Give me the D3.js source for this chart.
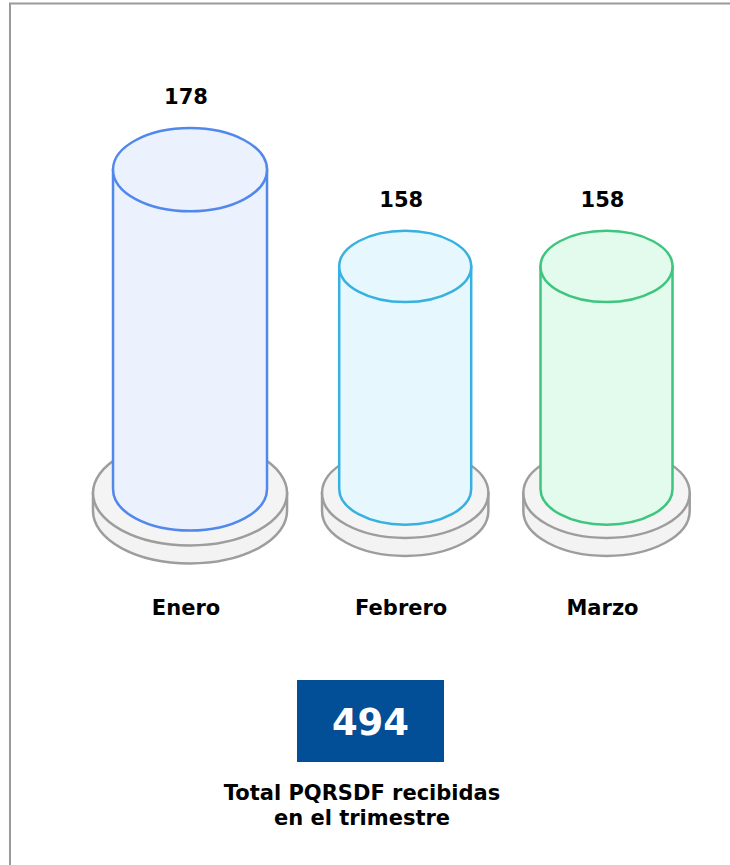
<!DOCTYPE html>
<html>
<head>
<meta charset="utf-8">
<script src="https://cdn.jsdelivr.net/npm/d3@7"></script>
<style>
  body { margin: 0; background: #fff; }
  svg { display: block; }
</style>
</head>
<body>
<svg id="chart" width="730" height="865"></svg>
<script>
// datos
const months = ["Enero", "Febrero", "Marzo"];
const counts = [178, 158, 158];
const totalLines = ["Total PQRSDF recibidas", "en el trimestre"];

// paleta
const strokeColors = ["#5088ec", "#37b1e0", "#3ec57f"];
const fillColors = ["#ebf2fe", "#e6f7fe", "#e2fbec"];

const font = "'DejaVu Sans', Verdana, sans-serif";
const svg = d3.select("#chart");

// marco
svg.append("rect")
    .attr("x", 10).attr("y", 3.5)
    .attr("width", 800).attr("height", 900)
    .attr("fill", "none")
    .attr("stroke", "#9a9a9a")
    .attr("stroke-width", 2);

// escalas
const base = 489;
const y = d3.scaleLinear().domain([112, 180]).range([base, 160]);
const rx = d3.scaleLinear().domain([158, 178]).range([66, 77]);
const tilt = 0.54, discK = 1.26, discT = 18, gap = 35, startX = 93;

// centros: discos uno al lado del otro
let cursor = startX;
const centers = counts.map(v => {
    const r = rx(v) * discK;
    const c = cursor + r;
    cursor = c + r + gap;
    return c;
});

const items = months.map((m, i) => ({name: m, value: counts[i], cx: centers[i], i}));

const g = svg.append("g").selectAll("g").data(items).join("g");

// base (disco)
g.each(function (d) {
    const el = d3.select(this);
    const R = rx(d.value) * discK, Ry = R * tilt;
    const cy = base + 4;
    el.append("path")
        .attr("d", `M${d.cx - R},${cy} L${d.cx - R},${cy + discT} A${R},${Ry} 0 0 0 ${d.cx + R},${cy + discT} L${d.cx + R},${cy} Z`)
        .attr("fill", "#f3f3f3").attr("stroke", "#9d9d9d").attr("stroke-width", 2.5);
    el.append("ellipse")
        .attr("cx", d.cx).attr("cy", cy).attr("rx", R).attr("ry", Ry)
        .attr("fill", "#f4f4f4").attr("stroke", "#9d9d9d").attr("stroke-width", 2.5);

    // cilindro
    const r = rx(d.value), ry = r * tilt, top = y(d.value);
    el.append("path")
        .attr("d", `M${d.cx - r},${top} L${d.cx - r},${base} A${r},${ry} 0 0 0 ${d.cx + r},${base} L${d.cx + r},${top} Z`)
        .attr("fill", fillColors[d.i]).attr("stroke", strokeColors[d.i]).attr("stroke-width", 2.5);
    el.append("ellipse")
        .attr("cx", d.cx).attr("cy", top).attr("rx", r).attr("ry", ry)
        .attr("fill", fillColors[d.i]).attr("stroke", strokeColors[d.i]).attr("stroke-width", 2.5);

    // valor
    el.append("text")
        .attr("x", d.cx - 4).attr("y", top - ry - 24)
        .attr("text-anchor", "middle")
        .style("font-family", font).style("font-weight", "bold").style("font-size", "21px")
        .text(d.value);

    // mes
    el.append("text")
        .attr("x", d.cx - 4).attr("y", 615)
        .attr("text-anchor", "middle")
        .style("font-family", font).style("font-weight", "bold").style("font-size", "21px")
        .text(d.name);
});

// total
const total = d3.sum(counts);
svg.append("rect")
    .attr("x", 297).attr("y", 680).attr("width", 147).attr("height", 82)
    .attr("fill", "#034f97");
svg.append("text")
    .attr("x", 370.5).attr("y", 735)
    .attr("text-anchor", "middle")
    .attr("fill", "#fff")
    .style("font-family", font).style("font-weight", "bold").style("font-size", "37px")
    .text(total);

svg.append("g").selectAll("text").data(totalLines).join("text")
    .attr("x", 362).attr("y", (d, i) => 800 + i * 25)
    .attr("text-anchor", "middle")
    .style("font-family", font).style("font-weight", "bold").style("font-size", "21px")
    .text(d => d);
</script>
</body>
</html>
